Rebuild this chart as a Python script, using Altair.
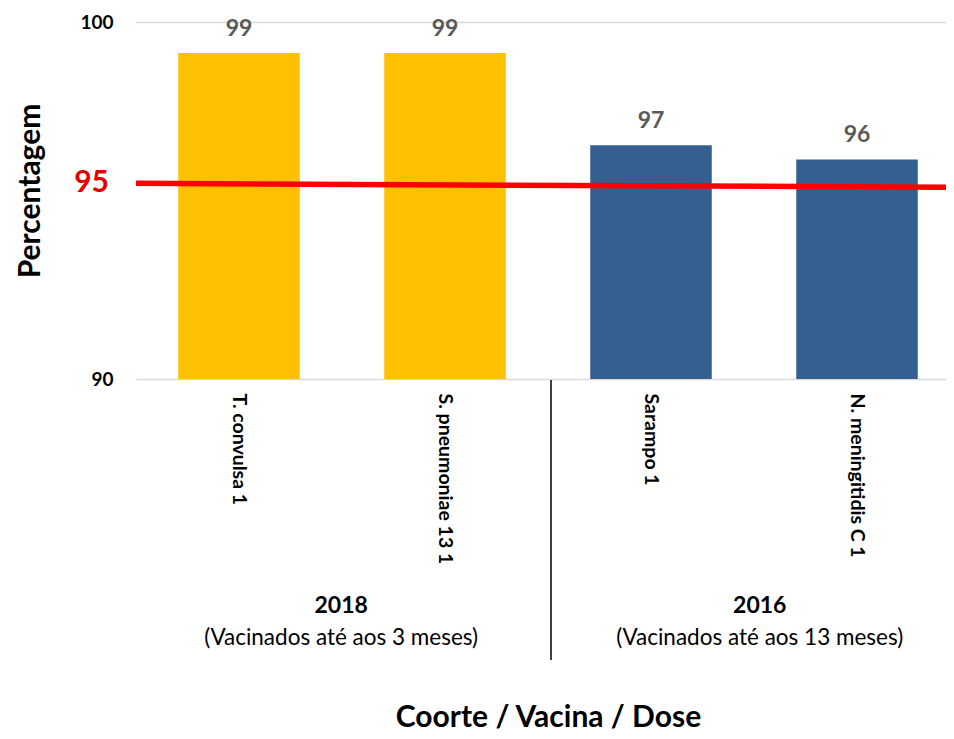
import altair as alt
import pandas as pd

# ---- data ----
vacinas = ["T. convulsa 1", "S. pneumoniae 13 1", "Sarampo 1", "N. meningitidis C 1"]
valores = [99.13, 99.13, 96.55, 96.15]
rotulos = ["99", "99", "97", "96"]
coortes = ["2018", "2018", "2016", "2016"]
cores = ["#FFC000", "#FFC000", "#365F91", "#365F91"]

grupo_titulos = ["2018", "2016"]
grupo_sub = ["(Vacinados até aos 3 meses)", "(Vacinados até aos 13 meses)"]
meta_rotulo = ["95"]
linha_meta = [95.48, 95.37]  # target line as drawn (left end, right end)
y_ticks = [90, 100]

W, H = 824, 357
FONT = "Lato"

df = pd.DataFrame({"vacina": vacinas, "valor": valores, "rotulo": rotulos, "coorte": coortes})

x = alt.X(
    "vacina:N", sort=vacinas,
    scale=alt.Scale(paddingInner=0.41, paddingOuter=0.205),
    axis=alt.Axis(
        title="Coorte / Vacina / Dose", labelAngle=90, labelAlign="left",
        labelBaseline="middle", labelFontSize=19.5, labelFontWeight="bold",
        labelColor="#000000", labelPadding=14, ticks=False, domain=False,
        titleFontSize=30, titleFontWeight="bold", titleColor="#000000",
        titleX=412, titleY=338, titleBaseline="middle", titleAlign="center",
    ),
)
y = alt.Y(
    "valor:Q",
    scale=alt.Scale(domain=[90, 100], zero=False, nice=False),
    axis=alt.Axis(
        values=y_ticks, title="Percentagem", grid=True, gridColor="#D9D9D9",
        gridWidth=1.5, ticks=False, domain=False, labelPadding=23,
        labelFontSize=19, labelFontWeight="bold", labelColor="#000000",
        titleFontSize=30, titleFontWeight="bold", titleColor="#000000",
        titleX=-106, titleY=H / 2 - 10, titleAngle=-90, titleAlign="center",
        titleBaseline="middle",
    ),
)

base = alt.Chart(df)
bars = base.mark_bar().encode(
    x=x, y=y, y2=alt.datum(90),
    color=alt.Color("vacina:N", scale=alt.Scale(domain=vacinas, range=cores), legend=None),
)
labels = base.mark_text(dy=-12, baseline="bottom", fontSize=23, fontWeight="bold",
                        color="#595959").encode(x=alt.X("vacina:N", sort=vacinas), y="valor:Q", text="rotulo:N")

meta_df = pd.DataFrame({"y1": [linha_meta[0]], "y2": [linha_meta[1]], "t": meta_rotulo})
meta_line = alt.Chart(meta_df).mark_rule(color="#FF0000", strokeWidth=5.5).encode(
    x=alt.value(0), x2=alt.value(W), y="y1:Q", y2="y2:Q")
meta_text = alt.Chart(meta_df).mark_text(align="right", baseline="middle", fontSize=30,
                                         fontWeight="bold", color="#E60000").encode(
    x=alt.value(-27), y="y1:Q", text="t:N")

sep_df = pd.DataFrame({"k": [0]})
separator = alt.Chart(sep_df).mark_rule(color="#000000", strokeWidth=1.5).encode(
    x=alt.value(W / 2 + 3), y=alt.value(H + 1), y2=alt.value(H + 281))

g_df = pd.DataFrame({"titulo": grupo_titulos, "sub": grupo_sub, "px": [W * 0.249, W * 0.757]})
g_title = alt.Chart(g_df).mark_text(fontSize=23, fontWeight="bold", color="#000000",
                                    baseline="middle").encode(
    x=alt.X("px:Q", scale=None), y=alt.value(H + 227), text="titulo:N")
g_sub = alt.Chart(g_df).mark_text(fontSize=22.5, color="#000000", baseline="middle").encode(
    x=alt.X("px:Q", scale=None), y=alt.value(H + 259), text="sub:N")

chart = alt.layer(bars, labels, meta_line, meta_text, separator, g_title, g_sub).properties(
    width=W, height=H,
    autosize=alt.AutoSizeParams(type="none"),
    padding={"left": 128, "top": 14, "right": -14, "bottom": 352},
).configure(font=FONT).configure_view(stroke=None)

chart.save("out.html", embed_options={"renderer": "svg", "actions": False})
